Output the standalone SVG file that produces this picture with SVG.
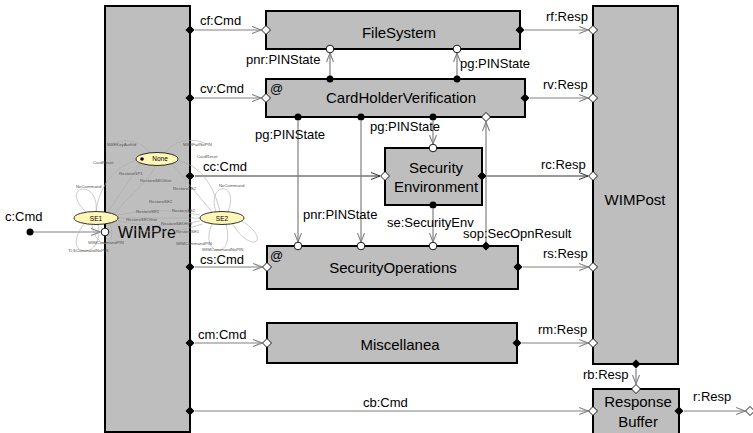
<svg xmlns="http://www.w3.org/2000/svg" width="753" height="433" viewBox="0 0 753 433">
<style>
.box{fill:#bebebe;stroke:#000;stroke-width:2}
.t{font-family:"Liberation Sans",Arial,sans-serif;fill:#000}
.nt{font-size:15px;text-anchor:middle}
.lb{font-size:13px}
.cn{fill:none;stroke:#808080;stroke-width:1.2;marker-end:url(#arr)}
.cd{fill:none;stroke:#333;stroke-width:1;marker-end:url(#arrd)}
.sm{fill:none;stroke:#aaa;stroke-width:0.6}
.st{font-family:"Liberation Sans",Arial,sans-serif;font-size:4.3px;fill:#555}
.el{fill:#fff6b8;stroke:#000;stroke-width:0.8}
</style>
<defs>
<marker id="arr" markerWidth="10" markerHeight="8" refX="9" refY="4" orient="auto" markerUnits="userSpaceOnUse"><path d="M0,0.5 L9,4 L0,7.5" fill="none" stroke="#808080" stroke-width="1.1"/></marker>
<marker id="arrd" markerWidth="10" markerHeight="8" refX="9" refY="4" orient="auto" markerUnits="userSpaceOnUse"><path d="M0,0.5 L9,4 L0,7.5" fill="none" stroke="#333" stroke-width="1"/></marker>
<path id="dF" d="M-4.5,0 L0,-4.5 L4.5,0 L0,4.5Z" fill="#000"/>
<path id="dO" d="M-4.5,0 L0,-4.5 L4.5,0 L0,4.5Z" fill="#fff" stroke="#000" stroke-width="0.9"/>
<circle id="cO" r="3.8" fill="#fff" stroke="#000" stroke-width="0.9"/>
<circle id="cF" r="3.5" fill="#000"/>
</defs>

<g id="connectors">
<line class="cn" x1="30" y1="232" x2="100" y2="232"/>
<line class="cn" x1="195" y1="30" x2="261" y2="30"/>
<line class="cn" x1="195" y1="98" x2="261" y2="98"/>
<line class="cd" x1="195" y1="176" x2="380" y2="176"/>
<line class="cn" x1="195" y1="267" x2="262" y2="267"/>
<line class="cn" x1="195" y1="343" x2="262" y2="343"/>
<line class="cn" x1="195" y1="411" x2="588" y2="411"/>
<line class="cn" x1="525" y1="30" x2="588" y2="30"/>
<line class="cn" x1="530" y1="98" x2="588" y2="98"/>
<line class="cd" x1="487" y1="176" x2="588" y2="176"/>
<line class="cn" x1="523" y1="267" x2="588" y2="267"/>
<line class="cn" x1="522" y1="343" x2="588" y2="343"/>
<line class="cn" x1="636" y1="369" x2="636" y2="384"/>
<line class="cn" x1="684" y1="411" x2="745" y2="411"/>
<line class="cn" x1="330" y1="76" x2="330" y2="53"/>
<line class="cn" x1="457" y1="76" x2="457" y2="53"/>
<line class="cn" x1="298" y1="121" x2="298" y2="242"/>
<line class="cn" x1="361" y1="121" x2="361" y2="242"/>
<line class="cn" x1="433" y1="121" x2="433" y2="144"/>
<line class="cn" x1="433" y1="209" x2="433" y2="242"/>
<line class="cn" x1="486" y1="242" x2="486" y2="122"/>
<use href="#cF" x="30" y="232"/>
<use href="#dO" x="750" y="411"/>
<text class="t lb" x="5" y="221">c:Cmd</text>
<text class="t lb" x="200" y="25">cf:Cmd</text>
<text class="t lb" x="200" y="93">cv:Cmd</text>
<text class="t lb" x="203" y="171">cc:Cmd</text>
<text class="t lb" x="200" y="264">cs:Cmd</text>
<text class="t lb" x="198" y="339">cm:Cmd</text>
<text class="t lb" x="363" y="407">cb:Cmd</text>
<text class="t lb" x="546" y="21">rf:Resp</text>
<text class="t lb" x="543" y="89">rv:Resp</text>
<text class="t lb" x="541" y="169">rc:Resp</text>
<text class="t lb" x="543" y="258">rs:Resp</text>
<text class="t lb" x="538" y="334">rm:Resp</text>
<text class="t lb" x="583" y="379">rb:Resp</text>
<text class="t lb" x="693" y="401">r:Resp</text>
<text class="t lb" x="246" y="64">pnr:PINState</text>
<text class="t lb" x="460" y="68">pg:PINState</text>
<text class="t lb" x="255" y="139">pg:PINState</text>
<text class="t lb" x="370" y="131">pg:PINState</text>
<text class="t lb" x="303" y="219">pnr:PINState</text>
<text class="t lb" x="387" y="227">se:SecurityEnv</text>
<text class="t lb" x="463" y="238">sop:SecOpnResult</text>
</g>

<g id="WIMPre">
<rect class="box" x="105" y="6" width="85" height="426"/>
<text class="t" x="118" y="238" font-size="16">WIMPre</text>
<use href="#cO" x="105" y="232"/>
<use href="#dF" x="190" y="30"/>
<use href="#dF" x="190" y="98"/>
<use href="#dF" x="190" y="176"/>
<use href="#dF" x="190" y="267"/>
<use href="#dF" x="190" y="343"/>
<use href="#dF" x="190" y="411"/>
</g>

<g id="statemachine">
<path class="sm" d="M140,164 L108,212"/>
<path class="sm" d="M172,164 L212,212"/>
<path class="sm" d="M118,215 Q160,206 200,215"/>
<path class="sm" d="M118,218 L200,218"/>
<path class="sm" d="M118,221 Q160,230 200,221"/>
<path class="sm" d="M116,224 Q160,240 202,224"/>
<path class="sm" d="M86,212 C58,185 100,178 96,212"/>
<path class="sm" d="M84,224 C58,258 106,262 98,224"/>
<path class="sm" d="M92,225 C96,250 118,250 110,223"/>
<path class="sm" d="M216,212 C206,182 240,180 228,212"/>
<path class="sm" d="M212,224 C198,256 236,262 226,224"/>
<path class="sm" d="M232,223 C252,256 272,240 242,221"/>
<path class="sm" d="M150,153 C140,138 118,138 110,146"/>
<path class="sm" d="M165,153 C176,138 196,138 206,144"/>
<path class="sm" d="M96,212 C100,180 120,165 137,160"/>
<path class="sm" d="M178,161 C200,165 214,185 220,212"/>
<path class="sm" d="M155,166 C150,180 130,195 115,213"/>
<text class="st" x="107" y="146">MSEKeyAuthId</text>
<text class="st" x="183" y="146">MSEFailNoPIN</text>
<text class="st" x="93" y="164">CardReset</text>
<text class="st" x="197" y="158">CardReset</text>
<text class="st" x="119" y="175">RestoreGP1</text>
<text class="st" x="140" y="182">RestoreSEOther</text>
<text class="st" x="173" y="190">RestoreSE2</text>
<text class="st" x="76" y="188">NoCommand</text>
<text class="st" x="219" y="187">NoCommand</text>
<text class="st" x="149" y="203">RestoreSE2</text>
<text class="st" x="136" y="213">RestoreSE1</text>
<text class="st" x="172" y="212">RestoreSE2</text>
<text class="st" x="126" y="221">RestoreSEOther</text>
<text class="st" x="161" y="224.5">RestoreSEOther</text>
<text class="st" x="176" y="233">RestoreSE1</text>
<text class="st" x="176" y="245">WIMCommandPIN</text>
<text class="st" x="202" y="251">WIMCommandNoPIN</text>
<text class="st" x="88" y="244">WIMCommandPIN</text>
<text class="st" x="68" y="252">TLSCommandNoPIN</text>
<ellipse class="el" cx="157" cy="159" rx="21" ry="6.5"/>
<circle cx="142" cy="159" r="1.8" fill="#000"/>
<text class="t" x="160" y="161" font-size="6.5" text-anchor="middle">None</text>
<ellipse class="el" cx="96" cy="218" rx="22" ry="6.5"/>
<text class="t" x="96" y="220.5" font-size="6.5" text-anchor="middle">SE1</text>
<ellipse class="el" cx="222" cy="218" rx="22" ry="6.5"/>
<text class="t" x="222" y="220.5" font-size="6.5" text-anchor="middle">SE2</text>
</g>

<g id="FileSystem">
<rect class="box" x="266" y="11" width="254" height="38"/>
<text class="t nt" x="399" y="38">FileSystem</text>
<use href="#dO" x="266" y="30"/>
<use href="#dF" x="520" y="30"/>
<use href="#cO" x="330" y="49"/>
<use href="#cO" x="457" y="49"/>
</g>

<g id="CardHolderVerification">
<rect class="box" x="266" y="79" width="259" height="38"/>
<text class="t nt" x="401" y="103">CardHolderVerification</text>
<text class="t" x="270" y="93" font-size="13">@</text>
<use href="#dO" x="266" y="98"/>
<use href="#dF" x="525" y="98"/>
<use href="#cF" x="330" y="79"/>
<use href="#cF" x="457" y="79"/>
<use href="#cF" x="298" y="117"/>
<use href="#cF" x="361" y="117"/>
<use href="#cF" x="433" y="117"/>
<use href="#dO" x="486" y="117"/>
</g>

<g id="SecurityEnvironment">
<rect class="box" x="385" y="148" width="97" height="57"/>
<text class="t nt" x="436" y="173">Security</text>
<text class="t nt" x="436" y="192">Environment</text>
<use href="#cO" x="433" y="148"/>
<use href="#dO" x="385" y="176"/>
<use href="#dF" x="482" y="176"/>
<use href="#cF" x="433" y="205"/>
</g>

<g id="SecurityOperations">
<rect class="box" x="267" y="246" width="251" height="43"/>
<text class="t nt" x="393" y="273">SecurityOperations</text>
<text class="t" x="270" y="260" font-size="13">@</text>
<use href="#dO" x="267" y="267"/>
<use href="#dF" x="518" y="267"/>
<use href="#cO" x="298" y="246"/>
<use href="#cO" x="361" y="246"/>
<use href="#cO" x="433" y="246"/>
<use href="#dF" x="486" y="246"/>
</g>

<g id="Miscellanea">
<rect class="box" x="267" y="323" width="250" height="40"/>
<text class="t nt" x="400" y="350">Miscellanea</text>
<use href="#dO" x="267" y="343"/>
<use href="#dF" x="517" y="343"/>
</g>

<g id="WIMPost">
<rect class="box" x="593" y="6" width="85" height="358"/>
<text class="t nt" x="635" y="205">WIMPost</text>
<use href="#dO" x="593" y="30"/>
<use href="#dO" x="593" y="98"/>
<use href="#dO" x="593" y="176"/>
<use href="#dO" x="593" y="267"/>
<use href="#dO" x="593" y="343"/>
<use href="#dF" x="636" y="364"/>
</g>

<g id="ResponseBuffer">
<rect class="box" x="593" y="389" width="86" height="55"/>
<text class="t nt" x="638" y="407">Response</text>
<text class="t nt" x="638" y="427">Buffer</text>
<use href="#dO" x="636" y="389"/>
<use href="#dO" x="593" y="411"/>
<use href="#dF" x="679" y="411"/>
</g>
</svg>
